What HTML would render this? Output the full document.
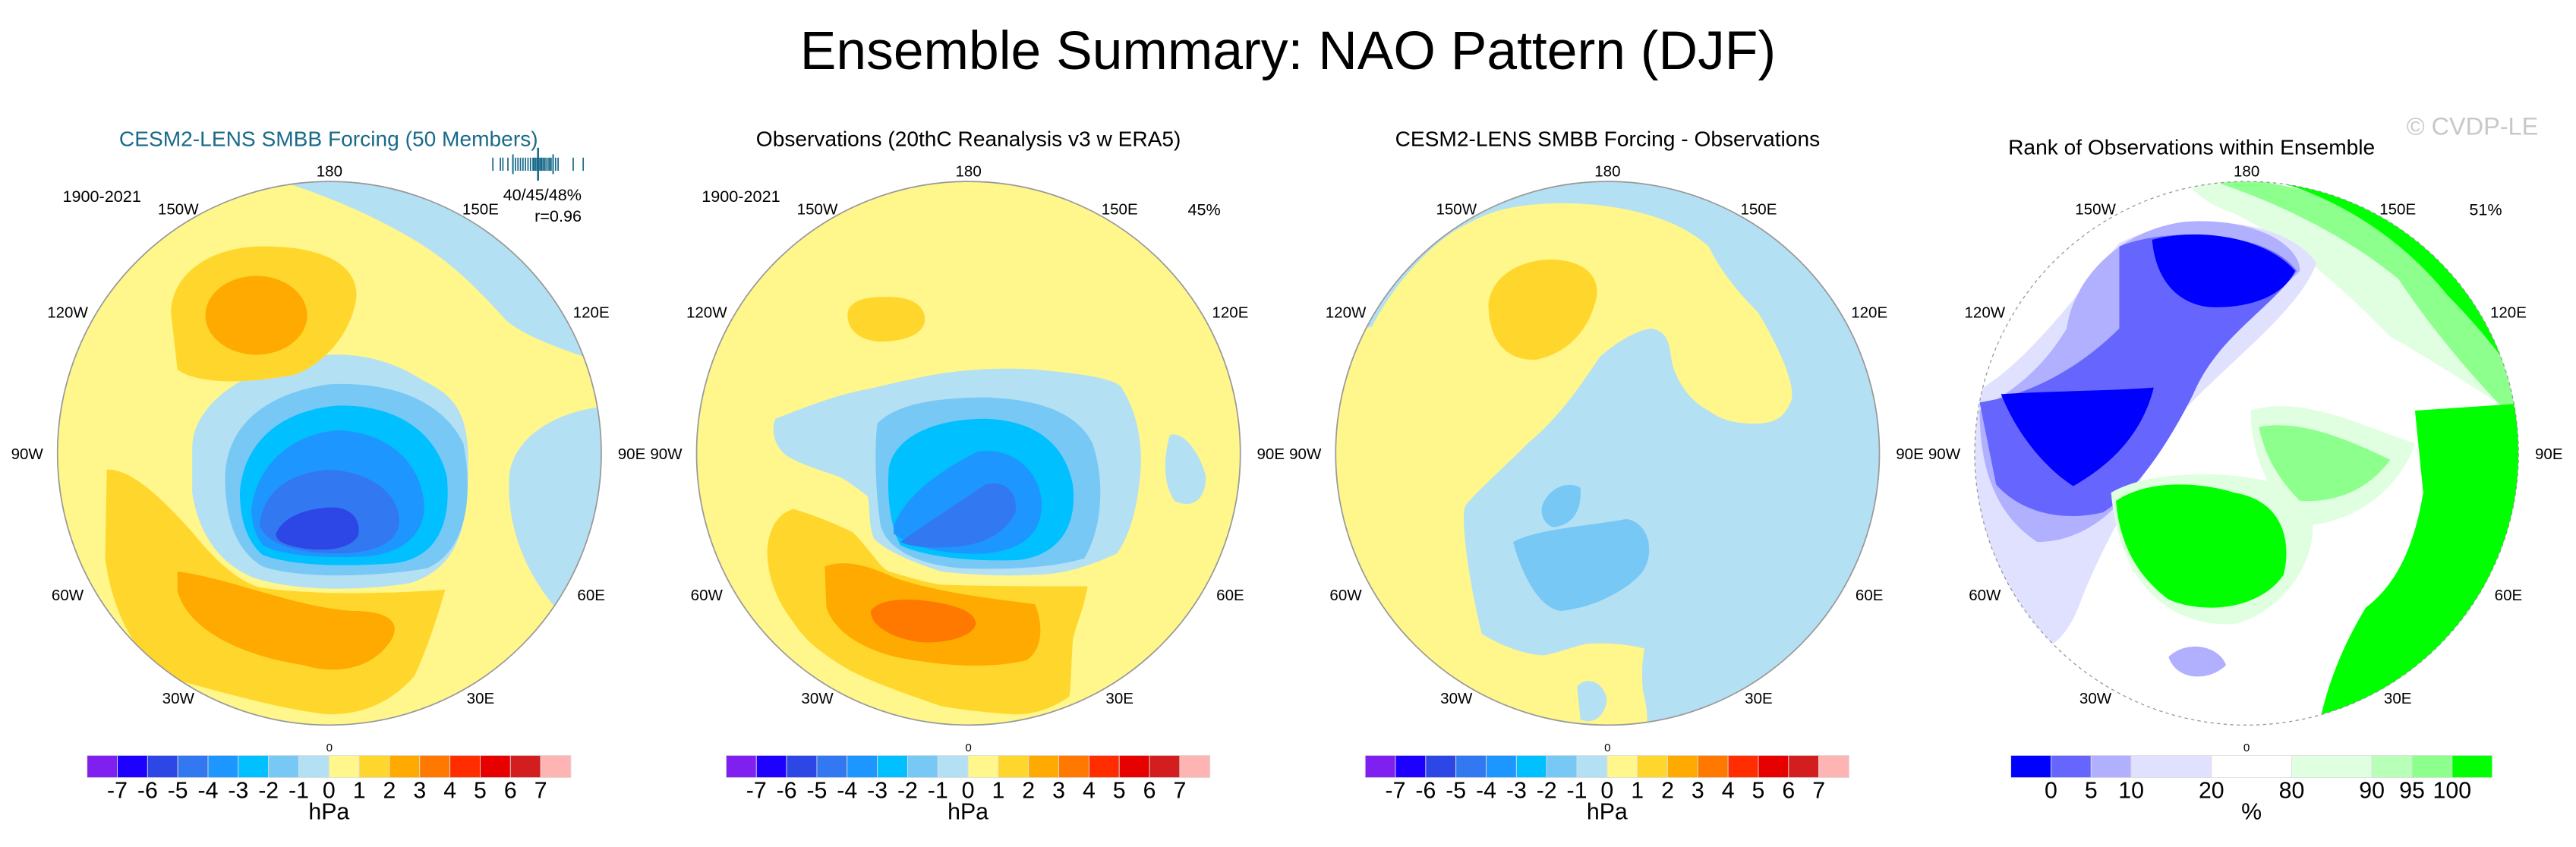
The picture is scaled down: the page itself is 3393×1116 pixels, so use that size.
<!DOCTYPE html>
<html><head><meta charset="utf-8"><style>
html,body{margin:0;padding:0;background:#fff;}
svg{display:block;font-family:"Liberation Sans",sans-serif;}
</style></head><body>
<svg id="fig" width="3393" height="1116" viewBox="0 0 1568 515.75" preserveAspectRatio="none" xmlns="http://www.w3.org/2000/svg">
<defs>
<clipPath id="c1"><circle cx="200.5" cy="276" r="165.5"/></clipPath>
<clipPath id="c2"><circle cx="589.5" cy="276" r="165.5"/></clipPath>
<clipPath id="c3"><circle cx="978.5" cy="276" r="165.5"/></clipPath>
<clipPath id="c4"><circle cx="1367.5" cy="276" r="165.5"/></clipPath>
</defs>
<text x="784" y="42" text-anchor="middle" font-size="33">Ensemble Summary: NAO Pattern (DJF)</text>
<text x="1545" y="82" text-anchor="end" font-size="15" fill="#c8c8c8">© CVDP-LE</text>

<!-- Panel 1 -->
<g>
<text x="200" y="89" text-anchor="middle" font-size="13" fill="#1a6a8a">CESM2-LENS SMBB Forcing (50 Members)</text>
<g clip-path="url(#c1)">
<rect x="30" y="105" width="345" height="345" fill="#fff68c"/>
<path d="M176,100 L380,100 L380,225 L364,220 C340,212 320,205 308,195 C290,175 275,160 252,146 C225,130 200,120 176,112 Z" fill="#b4e0f3"/>
<path d="M380,245 L364,248 C335,252 312,268 310,290 C308,320 320,350 340,372 L380,380 Z" fill="#b4e0f3"/>
<path d="M117,272 C118,245 150,225 185,218 C215,212 240,220 258,232 C275,240 285,250 285,280 C285,320 280,345 250,355 C220,360 180,360 155,352 C130,342 120,320 117,300 Z" fill="#b4e0f3"/>
<path d="M137,290 C138,260 160,240 200,234 C240,232 270,245 282,270 C288,300 285,335 260,346 C225,352 180,352 160,345 C143,335 137,315 137,290 Z" fill="#78c8f5"/>
<path d="M146,300 C148,270 170,250 205,247 C240,246 265,262 272,290 C275,320 265,340 240,343 C210,345 180,345 160,338 C150,330 146,315 146,300 Z" fill="#00c0ff"/>
<path d="M153,310 C156,285 175,265 205,262 C235,263 255,280 258,305 C260,325 245,338 220,339 C195,340 170,338 160,332 C155,325 153,318 153,310 Z" fill="#1e96ff"/>
<path d="M158,320 C160,300 175,288 200,286 C225,287 243,300 243,318 C242,332 225,337 205,337 C185,337 163,333 158,320 Z" fill="#3278f0"/>
<path d="M168,325 C172,315 185,310 200,309 C215,308 220,318 218,326 C214,334 200,336 185,334 C174,332 168,330 168,325 Z" fill="#2d46e6"/>
<path d="M104,190 C105,165 130,150 160,150 C195,150 217,160 217,180 C215,200 200,220 180,228 C150,234 120,234 108,225 Z" fill="#ffd72c"/>
<ellipse cx="156" cy="192" rx="31" ry="24" fill="#ffaa00"/>
<path d="M65,286 C80,285 100,305 117,324 C130,340 145,355 160,358 C190,362 230,362 271,359 C265,380 258,400 252,412 C240,425 225,435 200,435 C170,432 130,420 100,412 C80,395 68,370 64,340 Z" fill="#ffd72c"/>
<path d="M108,348 C140,352 180,370 215,372 C235,372 245,378 238,390 C225,410 200,410 185,405 C150,400 115,385 108,360 Z" fill="#ffaa00"/>
</g>
<circle cx="200.5" cy="276" r="165.5" fill="none" stroke="#999" stroke-width="0.8"/>
<text x="62" y="123" text-anchor="middle" font-size="10">1900-2021</text>
<text x="354" y="122" text-anchor="end" font-size="10">40/45/48%</text>
<text x="354" y="135" text-anchor="end" font-size="10">r=0.96</text>
<g id="ens-ticks" stroke="#1a6a8a" stroke-width="0.8"></g>
</g>

<!-- Panel 2 -->
<g>
<text x="589.5" y="89" text-anchor="middle" font-size="13">Observations (20thC Reanalysis v3 w ERA5)</text>
<g clip-path="url(#c2)">
<rect x="420" y="105" width="345" height="345" fill="#fff68c"/>
<path d="M472,255 C490,248 510,240 528,237 C550,232 565,228 584,226 C605,224 625,224 640,226 C660,228 675,230 682,235 C692,250 696,270 694,290 C692,310 688,325 680,337 C660,346 645,350 629,350 C610,351 590,350 573,348 C555,342 540,336 532,328 C528,318 530,308 528,302 C520,296 515,292 510,290 C495,285 480,280 476,275 C470,268 470,260 472,255 Z" fill="#b4e0f3"/>
<path d="M712,265 C720,262 730,275 734,290 C734,305 725,310 715,305 C708,295 708,280 712,265 Z" fill="#b4e0f3"/>
<path d="M534,258 C545,246 570,242 600,242 C630,243 655,250 665,270 C672,290 672,320 660,340 C640,346 610,347 585,346 C560,344 540,335 536,320 C533,300 532,275 534,258 Z" fill="#78c8f5"/>
<path d="M541,285 C545,265 570,255 600,255 C630,256 648,270 653,295 C656,320 645,338 620,341 C595,342 565,340 548,332 C541,318 540,300 541,285 Z" fill="#00c0ff"/>
<path d="M544,320 C552,300 575,285 595,275 C615,272 632,285 634,305 C635,325 622,335 600,337 C580,338 558,335 544,325 Z" fill="#1e96ff"/>
<path d="M548,330 C565,318 585,305 600,295 C612,292 620,300 618,312 C612,325 598,332 580,333 C565,334 555,333 548,330 Z" fill="#3278f0"/>
<path d="M516,190 C518,182 530,180 545,181 C558,182 563,188 563,195 C562,204 550,208 535,208 C522,207 515,200 516,190 Z" fill="#ffd72c"/>
<path d="M483,310 C500,315 510,320 519,324 C530,335 535,345 541,348 C555,352 565,355 573,356 C600,357 630,357 662,357 C660,370 655,380 653,390 C652,405 652,415 651,424 C640,432 628,435 618,435 C600,434 585,432 573,430 C550,422 530,415 517,408 C500,398 490,390 483,379 C472,365 467,350 467,335 C468,320 475,312 483,310 Z" fill="#ffd72c"/>
<path d="M502,345 C515,340 530,345 545,352 C575,362 610,365 630,368 C635,380 635,395 625,402 C600,408 570,405 545,400 C525,395 508,385 503,370 Z" fill="#ffaa00"/>
<path d="M530,372 C535,365 550,364 565,366 C580,368 594,372 594,380 C592,388 575,392 560,391 C545,389 530,382 530,372 Z" fill="#ff7800"/>
</g>
<circle cx="589.5" cy="276" r="165.5" fill="none" stroke="#999" stroke-width="0.8"/>
<text x="451" y="123" text-anchor="middle" font-size="10">1900-2021</text>
<text x="743" y="131" text-anchor="end" font-size="10">45%</text>
</g>

<!-- Panel 3 -->
<g>
<text x="978.5" y="89" text-anchor="middle" font-size="13">CESM2-LENS SMBB Forcing - Observations</text>
<g clip-path="url(#c3)">
<rect x="810" y="105" width="345" height="345" fill="#b4e0f3"/>
<path d="M800,205 L835,199 C850,170 874,146 890,138 C905,130 913,126 940,124 C960,123 983,125 1000,130 C1015,134 1027,139 1040,150 C1049,168 1060,180 1070,190 C1082,210 1094,235 1090,245 C1085,255 1081,257 1070,258 C1060,258 1049,257 1040,250 C1030,245 1022,235 1018,222 C1016,210 1016,202 1005,200 C994,202 985,208 974,217 C962,235 950,253 930,270 C915,285 896,302 892,308 C889,313 893,350 902,386 C915,394 930,399 940,399 C950,397 960,393 966,392 C980,391 995,393 1001,395 C1000,400 999,408 1000,420 C1002,430 1005,439 1000,460 L800,460 Z" fill="#fff68c"/>
<path d="M960,418 C965,412 975,414 978,425 C978,435 970,442 962,438 Z" fill="#b4e0f3"/>
<path d="M906,185 C908,168 925,158 945,158 C965,159 973,168 972,180 C968,200 955,215 935,219 C915,220 906,205 906,185 Z" fill="#ffd72c"/>
<path d="M921,330 C935,322 970,320 990,316 C1003,318 1008,335 1000,348 C990,360 970,370 950,372 C935,370 925,345 921,330 Z" fill="#78c8f5"/>
<path d="M940,305 C945,296 955,293 962,297 C963,310 958,320 945,321 C938,318 937,310 940,305 Z" fill="#78c8f5"/>
</g>
<circle cx="978.5" cy="276" r="165.5" fill="none" stroke="#999" stroke-width="0.8"/>
</g>

<!-- Panel 4 -->
<g>
<text x="1334" y="94" text-anchor="middle" font-size="13">Rank of Observations within Ensemble</text>
<g clip-path="url(#c4)">
<rect x="1200" y="105" width="345" height="345" fill="#fff"/>
<path d="M1330,108 C1420,112 1480,140 1520,200 L1545,262 C1520,245 1490,225 1455,205 C1430,180 1400,150 1360,130 C1345,125 1335,118 1330,108 Z" fill="#e0ffe0"/>
<path d="M1352,108 C1420,112 1470,140 1505,180 C1530,210 1540,240 1545,262 L1530,255 C1505,230 1480,200 1460,170 C1430,145 1390,125 1352,112 Z" fill="#8cff8c"/>
<path d="M1360,104 L1460,112 C1490,140 1520,180 1535,230 L1545,250 C1530,225 1510,200 1490,180 C1470,155 1440,130 1400,115 C1385,110 1370,108 1360,106 Z" fill="#00ff00"/>
<path d="M1200,240 C1230,225 1260,185 1290,148 C1330,128 1390,132 1410,160 C1400,190 1350,225 1320,260 C1300,300 1280,330 1265,370 C1255,395 1240,400 1225,395 L1200,380 Z" fill="#e0e0ff"/>
<path d="M1258,200 C1262,170 1290,140 1330,135 C1370,132 1400,148 1400,165 C1380,185 1350,200 1335,225 C1320,250 1310,280 1295,300 C1280,320 1260,330 1240,330 C1225,320 1205,300 1205,250 C1220,240 1240,230 1258,200 Z" fill="#b0b0ff"/>
<path d="M1290,150 C1320,138 1380,140 1398,165 C1380,190 1350,205 1335,240 C1320,270 1300,300 1280,312 C1255,318 1230,312 1215,295 L1205,245 C1240,240 1270,220 1290,200 Z" fill="#6666ff"/>
<path d="M1310,146 C1340,138 1380,145 1397,165 C1390,180 1370,188 1345,187 C1325,185 1312,170 1310,146 Z" fill="#0000ff"/>
<path d="M1218,240 C1250,238 1285,238 1311,236 C1305,260 1290,280 1262,296 C1245,285 1228,265 1218,240 Z" fill="#0000ff"/>
<path d="M1285,300 C1310,285 1370,285 1400,300 C1420,320 1400,370 1360,380 C1320,382 1290,355 1285,300 Z" fill="#e0ffe0"/>
<path d="M1370,250 C1400,240 1440,260 1470,270 C1460,300 1430,320 1400,320 C1380,300 1370,275 1370,250 Z" fill="#e0ffe0"/>
<path d="M1375,260 C1400,255 1430,268 1455,280 C1440,300 1420,306 1400,305 C1385,290 1378,275 1375,260 Z" fill="#8cff8c"/>
<path d="M1288,305 C1310,290 1345,295 1360,300 C1390,305 1395,330 1390,350 C1375,372 1340,374 1320,365 C1300,350 1290,330 1288,305 Z" fill="#00ff00"/>
<path d="M1470,250 L1545,245 L1545,450 L1410,450 C1415,420 1425,395 1440,370 C1460,355 1470,330 1475,300 Z" fill="#00ff00"/>
<path d="M1320,400 C1330,390 1350,392 1355,405 C1345,415 1325,415 1320,400 Z" fill="#b0b0ff"/>
</g>
<circle cx="1367.5" cy="276" r="165.5" fill="none" stroke="#999" stroke-width="0.6" stroke-dasharray="2,2"/>
<text x="1523" y="131" text-anchor="end" font-size="10">51%</text>
</g>

<g id="lonlabels" font-size="9.5"></g>
<g id="colorbars"></g>
</svg>
<script>
const NS='http://www.w3.org/2000/svg';
// Colorbar data
const hpaLevels=[-7,-6,-5,-4,-3,-2,-1,0,1,2,3,4,5,6,7];
const hpaColors=['#8020f0','#1e00ff','#2d46e6','#3278f0','#1e96ff','#00c0ff','#78c8f5','#b4e0f3','#fff68c','#ffd72c','#ffaa00','#ff7800','#ff2d00','#e60000','#d21e1e','#ffb4b4'];
const rankLevels=[0,5,10,20,80,90,95,100];
const rankColors=['#0000ff','#6666ff','#b0b0ff','#e0e0ff','#ffffff','#e0ffe0','#b8ffb8','#8cff8c','#00ff00'];
const rankBoxWidths=[1,1,1,2,2,2,1,1,1];
const lonLabels=['180','150E','120E','90E','60E','30E','0','30W','60W','90W','120W','150W'];
const lonValues=[180,150,120,90,60,30,0,-30,-60,-90,-120,-150];
const ensembleMembers=[36,37.5,38,39,40,40.5,41,41.5,42,42.5,43,43.5,44,44.2,44.5,44.8,45,45.2,45.5,45.7,46,46.3,46.6,47,47.3,47.6,48,48.5,49,52,54];
const centers=[200.5,589.5,978.5,1367.5], cy=276;

function mk(tag,attrs,parent){const e=document.createElementNS(NS,tag);for(const k in attrs)e.setAttribute(k,attrs[k]);parent.appendChild(e);return e;}

const lg=document.getElementById('lonlabels');
centers.forEach((cx)=>{
  lonValues.forEach((lv,i)=>{
    const a=lv*Math.PI/180;
    const x=cx+184*Math.sin(a), y=cy+(lv===0?178:172)*Math.cos(a)+3.5;
    const t=mk('text',{x:x,y:y,'text-anchor':'middle','font-size':lv===0?7:9.5},lg);
    
    
    t.textContent=lonLabels[i];
  });
});

const eg=document.getElementById('ens-ticks');
function ex(v){return 300+(v-36)*(355-300)/(54-36);}
ensembleMembers.forEach(v=>{
  const l=mk('line',{x1:ex(v),x2:ex(v),y1:96,y2:104},eg);
  
  
});
[[40,94,106],[45,90,110],[48,94,106]].forEach(d=>{
  const l=mk('line',{x1:ex(d[0]),x2:ex(d[0]),y1:d[1],y2:d[2],'stroke-width':d[0]===45?1.2:0.9},eg);
  
  
});

const cg=document.getElementById('colorbars');
function hpaBar(x0,w){
  const g=mk('g',{},cg);
  
  
  const bw=w/hpaColors.length;
  hpaColors.forEach((c,i)=>{
    const r=mk('rect',{x:x0+i*bw,y:460,width:bw,height:13.5,fill:c,stroke:'#ddd','stroke-width':0.4},g);
    
    
  });
  hpaLevels.forEach((v,i)=>{
    const t=mk('text',{x:x0+(i+1)*bw,y:486,'text-anchor':'middle','font-size':14},g);
    
    
    t.textContent=v;
  });
  const u=mk('text',{x:x0+w/2,y:499,'text-anchor':'middle','font-size':14},g);
  
  
  u.textContent='hPa';
}
[53,442,831].forEach(x=>hpaBar(x,294.5));
(function(){
  const x0=1224,w=293;
  const g=mk('g',{},cg);
  
  
  const tot=rankBoxWidths.reduce((a,b)=>a+b,0);
  let x=x0; const bounds=[];
  rankColors.forEach((c,i)=>{
    const bw=w*rankBoxWidths[i]/tot;
    const r=mk('rect',{x:x,y:460,width:bw,height:13.5,fill:c,stroke:'#ddd','stroke-width':0.4},g);
    
    
    x+=bw; bounds.push(x);
  });
  rankLevels.forEach((v,i)=>{
    const t=mk('text',{x:bounds[i],y:486,'text-anchor':'middle','font-size':14},g);
    
    
    t.textContent=v;
  });
  const u=mk('text',{x:x0+w/2,y:499,'text-anchor':'middle','font-size':14},g);
  
  
  u.textContent='%';
})();
</script>
</body></html>
